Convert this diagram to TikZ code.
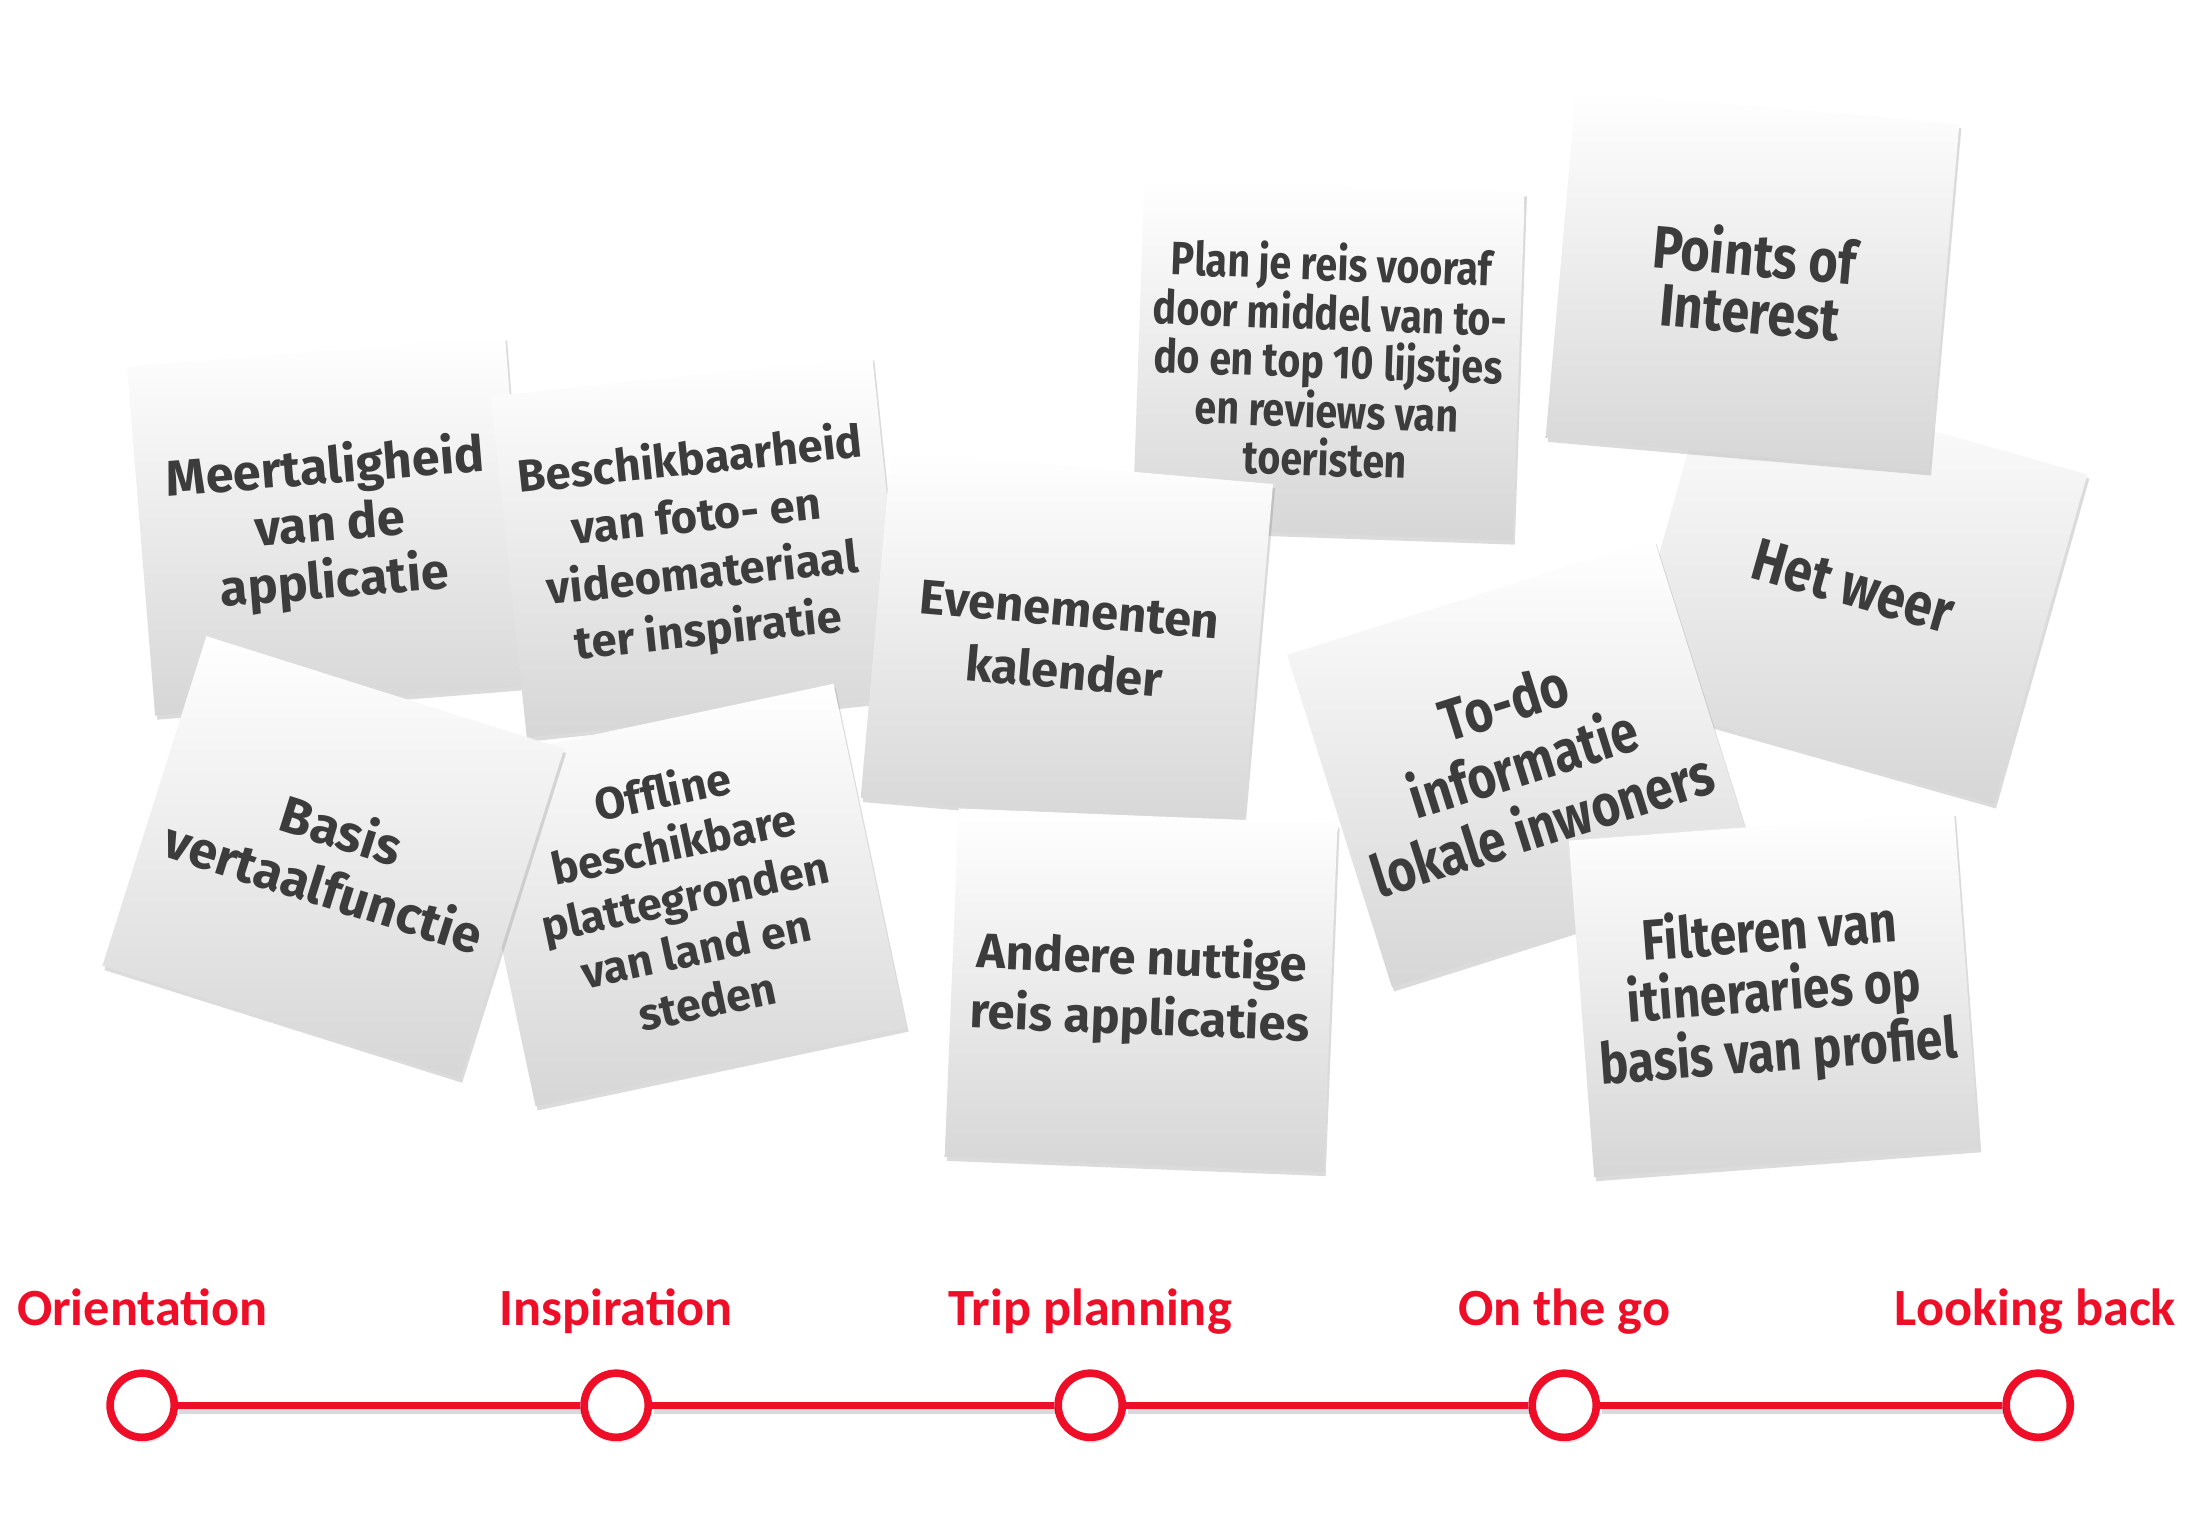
\documentclass[tikz,border=0pt]{standalone}
\usepackage{fontspec}
\setmainfont{Fira Sans}
\newfontfamily\cardfont{Fira Sans}
\newfontfamily\condfont[FakeStretch=0.84]{Fira Sans}
\newfontfamily\labelfont{Carlito}
\usetikzlibrary{shadows}
\definecolor{tlred}{RGB}{238,14,40}
\definecolor{ink}{RGB}{60,60,60}
\begin{document}
\begin{tikzpicture}[x=1pt,y=1pt,
  card/.style={top color=white, bottom color=black!16, draw=none,
    inner sep=0pt, align=center, text=ink,
    drop shadow={shadow xshift=1.5pt, shadow yshift=-3pt, opacity=0.28}},
  wide/.style n args={2}{font=\cardfont\bfseries\fontsize{#1}{#2}\selectfont},
  narrow/.style n args={2}{font=\condfont\bfseries\fontsize{#1}{#2}\selectfont},
  stage/.style={circle, draw=tlred, line width=5.5pt, fill=white, minimum size=46pt, inner sep=0pt,
    drop shadow={shadow xshift=1pt, shadow yshift=-4pt, opacity=0.18}},
  stagelabel/.style={text=tlred, font=\labelfont\bfseries\fontsize{37.5}{40}\selectfont, anchor=base},
  tlline/.style={draw=tlred, line width=5pt,
    preaction={draw=black, opacity=0.15, line width=5pt, transform canvas={xshift=1pt,yshift=-4pt}}}
]
\useasboundingbox (0,0) rectangle (1568,-1099);
\fill[white] (0,0) rectangle (1568,-1099);

% cards (drawing order = stacking order)
\node[card, narrow={33.5}{34.5}, minimum width=273pt, minimum height=250pt, rotate=-2]
  (plan) at (953,-258) {Plan je reis vooraf\\door middel van to-\\do en top 10 lijstjes\\en reviews van\\toeristen};
\node[card, wide={36}{41}, minimum width=272pt, minimum height=251pt, rotate=4.6]
  (meer) at (236.75,-377.25) {Meertaligheid\\van de\\applicatie};
\node[card, wide={32.5}{41}, minimum width=275pt, minimum height=246pt, rotate=6]
  (besch) at (501.75,-392.25) {Beschikbaarheid\\van foto- en\\videomateriaal\\ter inspiratie};
\node[card, wide={35}{45}, minimum width=275pt, minimum height=250pt, rotate=-5]
  (even) at (765.25,-459.75) {Evenementen\\kalender};
\node[card, wide={35}{43}, minimum width=272pt, minimum height=250pt, rotate=-2.3]
  (andere) at (818.5,-710.25) {Andere nuttige\\reis applicaties};
\node[card, wide={32}{38.5}, minimum width=272pt, minimum height=252pt, rotate=12]
  (offline) at (491,-642) {Offline\\beschikbare\\plattegronden\\van land en\\steden};
\node[card, wide={37}{43}, minimum width=269pt, minimum height=248pt, rotate=-17.5]
  (basis) at (239,-615) {Basis\\vertaalfunctie};
\node[card, narrow={43}{46}, minimum width=280pt, minimum height=246pt, rotate=-15.8]
  (weer) at (1329,-420.5) {Het weer};
\node[card, narrow={43}{41}, minimum width=276pt, minimum height=250pt, rotate=-5]
  (poi) at (1257,-201.5) {Points of\\Interest};
\node[card, narrow={42}{46}, minimum width=276pt, minimum height=250pt, rotate=17.5]
  (todo) at (1092.5,-547.5) {To-do\\informatie\\lokale inwoners};
\node[card, narrow={41}{43}, minimum width=277pt, minimum height=242pt, rotate=4.3]
  (filter) at (1272.5,-713.25) {Filteren van\\itineraries op\\basis van profiel};

% timeline
\node[stage] (s1) at (102,-1008) {};
\node[stage] (s2) at (442,-1008) {};
\node[stage] (s3) at (782,-1008) {};
\node[stage] (s4) at (1122,-1008) {};
\node[stage] (s5) at (1462,-1008) {};
\draw[tlline] (s1) -- (s2);
\draw[tlline] (s2) -- (s3);
\draw[tlline] (s3) -- (s4);
\draw[tlline] (s4) -- (s5);

\node[stagelabel] (l1) at (102,-951) {Orientation};
\node[stagelabel] (l2) at (442,-951) {Inspiration};
\node[stagelabel] (l3) at (782,-951) {Trip planning};
\node[stagelabel] (l4) at (1122,-951) {On the go};
\node[stagelabel] (l5) at (1460,-951) {Looking back};
\end{tikzpicture}
\end{document}
